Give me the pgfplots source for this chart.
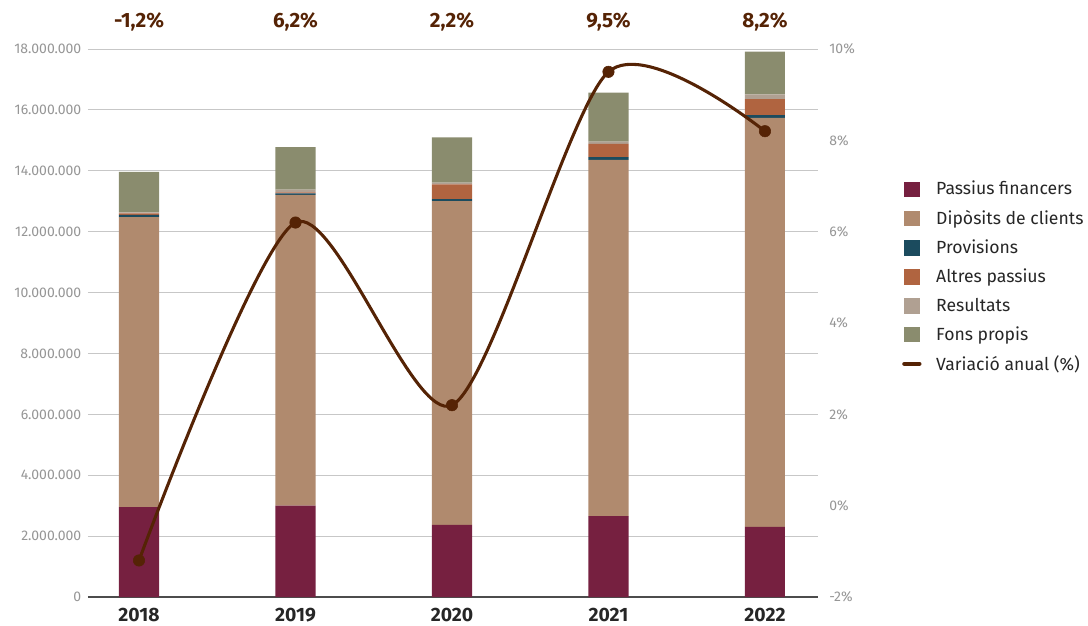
\documentclass[border=0pt]{standalone}
\usepackage{pgfplots}
\usepackage{pgfplotstable}
\pgfplotsset{compat=1.18}
\usepackage{fontspec}
\setmainfont{Fira Sans}

\definecolor{pfin}{RGB}{118,32,64}
\definecolor{dipo}{RGB}{176,138,110}
\definecolor{prov}{RGB}{27,75,94}
\definecolor{altr}{RGB}{176,100,64}
\definecolor{resu}{RGB}{176,160,146}
\definecolor{fons}{RGB}{138,140,110}
\definecolor{vari}{RGB}{85,35,5}
\definecolor{tickgray}{RGB}{150,150,150}

% balance components
\pgfplotstableread{
x pf      dip      prov   altr   resu   fons
0 2950000 9530000  70000  50000  30000  1330000
1 3000000 10210000 50000  30000  90000  1400000
2 2370000 10630000 70000  480000 60000  1490000
3 2660000 11700000 90000  430000 80000  1610000
4 2300000 13440000 90000  520000 160000 1400000
}\balanc

% annual variation in %
\pgfplotstableread{
x var
0 -1.2
1 6.2
2 2.2
3 9.5
4 8.2
}\variacio

\pgfplotsset{
  every axis/.append style={
    scale only axis, width=547.5pt, height=411pt,
    xmin=-0.326, xmax=4.339, clip=false,
    major tick length=0pt,
  },
}

\begin{document}
\begin{tikzpicture}
\begin{axis}[
  ymin=0, ymax=18000000,
  ybar stacked, bar width=0.256,
  axis x line*=bottom, axis y line*=left,
  x axis line style={draw=black!70, line width=0.8pt},
  y axis line style={draw=none},
  xtick={0,1,2,3,4}, xticklabels={2018,2019,2020,2021,2022},
  xticklabel style={font=\bfseries\fontsize{14.5}{16}\selectfont, text=black!85, yshift=-4.5pt},
  ytick={0,2000000,4000000,6000000,8000000,10000000,12000000,14000000,16000000,18000000},
  scaled y ticks=false,
  yticklabel style={font=\fontsize{10.5}{12}\selectfont, text=tickgray, xshift=-1.5pt,
    /pgf/number format/.cd, fixed, 1000 sep={.}, assume math mode=true},
  ymajorgrids, grid style={draw=black!22, line width=0.6pt},
]
\addplot[fill=pfin, draw=none] table[y=pf] {\balanc};
\addplot[fill=dipo, draw=none] table[y=dip] {\balanc};
\addplot[fill=prov, draw=none] table[y=prov] {\balanc};
\addplot[fill=altr, draw=none] table[y=altr] {\balanc};
\addplot[fill=resu, draw=none] table[y=resu] {\balanc};
\addplot[fill=fons, draw=none] table[y=fons] {\balanc};
\end{axis}

\begin{axis}[
  ymin=-2, ymax=10,
  axis y line*=right, axis x line=none,
  y axis line style={draw=none},
  ytick={-2,0,2,4,6,8,10},
  yticklabel={\pgfmathprintnumber[assume math mode=true]{\tick}\%},
  yticklabel style={font=\fontsize{10.5}{12}\selectfont, text=tickgray, xshift=5pt},
  legend style={at={(1.115,0.764)}, anchor=north west, draw=none, fill=none,
    font=\fontsize{13.2}{15}\selectfont, text=black!85, row sep=6pt, inner sep=0pt,
    /tikz/every odd column/.append style={column sep=9pt}},
  legend cell align=left,
]
\addlegendimage{legend image code/.code={\fill[pfin] (0pt,-5.5pt) rectangle (11pt,5.5pt);}}
\addlegendentry{Passius financers}
\addlegendimage{legend image code/.code={\fill[dipo] (0pt,-5.5pt) rectangle (11pt,5.5pt);}}
\addlegendentry{Dipòsits de clients}
\addlegendimage{legend image code/.code={\fill[prov] (0pt,-5.5pt) rectangle (11pt,5.5pt);}}
\addlegendentry{Provisions}
\addlegendimage{legend image code/.code={\fill[altr] (0pt,-5.5pt) rectangle (11pt,5.5pt);}}
\addlegendentry{Altres passius}
\addlegendimage{legend image code/.code={\fill[resu] (0pt,-5.5pt) rectangle (11pt,5.5pt);}}
\addlegendentry{Resultats}
\addlegendimage{legend image code/.code={\fill[fons] (0pt,-5.5pt) rectangle (11pt,5.5pt);}}
\addlegendentry{Fons propis}

\addplot[vari, line width=2.3pt, smooth, tension=0.45, mark=*, mark size=4.3pt,
  mark options={solid, fill=vari, draw=vari, line width=0.4pt},
  legend image code/.code={\draw[vari, line width=3.5pt, line cap=round] (0pt,0pt) -- (11pt,0pt);}]
  table[y=var] {\variacio};
\addlegendentry{Variació anual (\%)}

% labels above the columns
\addplot[draw=none, mark=none, forget plot, nodes near coords, point meta=explicit symbolic,
  every node near coord/.append style={anchor=center, font=\bfseries\fontsize{15.5}{17}\selectfont, text=vari}]
  coordinates {(0,10.6) [{-1,2\%}] (1,10.6) [{6,2\%}] (2,10.6) [{2,2\%}] (3,10.6) [{9,5\%}] (4,10.6) [{8,2\%}]};
\end{axis}

\pgfresetboundingbox
\path (current axis.south west) ++(-66pt,-21pt) rectangle ++(816pt,468.75pt);
\end{tikzpicture}
\end{document}
